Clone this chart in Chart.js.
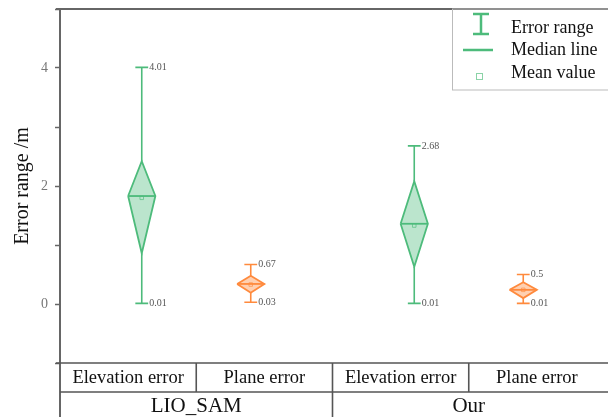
<!DOCTYPE html>
<html>
<head>
<meta charset="utf-8">
<script src="https://cdn.jsdelivr.net/npm/chart.js@4"></script>
<style>
  html, body { margin: 0; padding: 0; background: #fff; overflow: hidden; }
  #wrap { width: 608px; height: 417px; overflow: hidden; }
</style>
</head>
<body>
<div id="wrap"><canvas id="chart" width="610" height="417"></canvas></div>
<script>
// data
const categories = ['LIO_SAM', 'Our'];
const metrics = ['Elevation error', 'Plane error'];
// order: LIO_SAM elevation, LIO_SAM plane, Our elevation, Our plane
const whiskerLow = [0.01, 0.03, 0.01, 0.01];
const whiskerHigh = [4.01, 0.67, 2.68, 0.5];
const diamondLow = [0.86, 0.19, 0.63, 0.10];
const diamondHigh = [2.42, 0.48, 2.08, 0.37];
const medians = [1.83, 0.34, 1.36, 0.24];
const means = [1.80, 0.33, 1.33, 0.24];
const labelLow = ['0.01', '0.03', '0.01', '0.01'];
const labelHigh = ['4.01', '0.67', '2.68', '0.5'];
const yTicks = [0, 2, 4];

const colors = ['#4dbb7b', '#ff8a3d'];
const fills = ['rgba(77,187,123,0.38)', 'rgba(255,138,61,0.40)'];
const meanColors = ['rgba(110,200,145,0.8)', 'rgba(255,170,110,0.9)'];
const serif = '"Liberation Serif", "DejaVu Serif", serif';

const halfW = 0.1;    // diamond half width in x units
const capW = 0.047;   // whisker cap half width

function boxX(i) {
  const group = Math.floor(i / 2);
  return group * 2 + (i % 2 === 0 ? 0.6 : 1.4);
}

const datasets = [];
whiskerLow.forEach((lo, i) => {
  const x = boxX(i);
  const c = colors[i % 2];
  // whisker
  datasets.push({
    data: [{x: x, y: lo}, {x: x, y: diamondLow[i]}, {x: x, y: null},
           {x: x, y: diamondHigh[i]}, {x: x, y: whiskerHigh[i]}],
    borderColor: c, borderWidth: 1.6, pointRadius: 0, fill: false
  });
  // caps
  datasets.push({
    data: [{x: x - capW, y: lo}, {x: x + capW, y: lo}, {x: x, y: null},
           {x: x - capW, y: whiskerHigh[i]}, {x: x + capW, y: whiskerHigh[i]}],
    borderColor: c, borderWidth: 1.6, pointRadius: 0, fill: false
  });
  // diamond
  datasets.push({
    data: [{x: x - halfW, y: medians[i]}, {x: x, y: diamondHigh[i]},
           {x: x + halfW, y: medians[i]}, {x: x, y: diamondLow[i]},
           {x: x - halfW, y: medians[i]}],
    borderColor: c, borderWidth: 1.8, backgroundColor: fills[i % 2],
    pointRadius: 0, fill: 'shape', borderJoinStyle: 'miter'
  });
  // median line
  datasets.push({
    data: [{x: x - halfW, y: medians[i]}, {x: x + halfW, y: medians[i]}],
    borderColor: c, borderWidth: 1.8, pointRadius: 0, fill: false
  });
  // mean marker
  datasets.push({
    data: [{x: x, y: means[i]}],
    showLine: false, pointStyle: 'rect', pointRadius: 2.5,
    borderColor: meanColors[i % 2], borderWidth: 1, backgroundColor: 'rgba(0,0,0,0)'
  });
});

const decorPlugin = {
  id: 'decor',
  afterDraw(chart) {
    const ctx = chart.ctx;
    const xs = chart.scales.x;
    const ys = chart.scales.y;
    const area = chart.chartArea;
    const right = 610;
    ctx.save();

    // value labels next to the caps
    ctx.font = '10px ' + serif;
    ctx.fillStyle = '#555';
    ctx.textAlign = 'left';
    ctx.textBaseline = 'middle';
    whiskerLow.forEach((lo, i) => {
      const px = xs.getPixelForValue(boxX(i) + capW) + 1;
      ctx.fillText(labelHigh[i], px, ys.getPixelForValue(whiskerHigh[i]));
      ctx.fillText(labelLow[i], px, ys.getPixelForValue(lo));
    });

    // frame lines
    ctx.strokeStyle = '#666';
    ctx.lineWidth = 2;
    ctx.beginPath();
    ctx.moveTo(56, area.top); ctx.lineTo(right, area.top);
    ctx.moveTo(area.left, area.top); ctx.lineTo(area.left, 417);
    ctx.stroke();

    // category table under the plot
    const row1 = area.bottom;
    const row2 = row1 + 29;
    ctx.lineWidth = 1.6;
    ctx.strokeStyle = '#555';
    ctx.beginPath();
    ctx.moveTo(56, row1); ctx.lineTo(right, row1);
    ctx.moveTo(area.left, row2); ctx.lineTo(right, row2);
    [1, 3].forEach(v => {
      const px = xs.getPixelForValue(v);
      ctx.moveTo(px, row1); ctx.lineTo(px, row2);
    });
    const mid = xs.getPixelForValue(2);
    ctx.moveTo(mid, row1); ctx.lineTo(mid, 417);
    ctx.stroke();

    ctx.fillStyle = '#111';
    ctx.textAlign = 'center';
    ctx.textBaseline = 'middle';
    ctx.font = '18.5px ' + serif;
    for (let k = 0; k < 4; k++) {
      const cx = xs.getPixelForValue(k + 0.5);
      ctx.fillText(metrics[k % 2], cx, row1 + 15);
    }
    ctx.font = '21px ' + serif;
    categories.forEach((name, g) => {
      const cx = xs.getPixelForValue(g * 2 + 1);
      ctx.fillText(name, cx, row2 + 14);
    });

    // legend
    ctx.lineWidth = 1;
    ctx.strokeStyle = '#bbb';
    ctx.strokeRect(452.5, area.top, 200, 81);
    ctx.strokeStyle = colors[0];
    ctx.lineWidth = 2.5;
    ctx.beginPath();
    ctx.moveTo(481, 14); ctx.lineTo(481, 34);
    ctx.moveTo(473, 14); ctx.lineTo(489, 14);
    ctx.moveTo(473, 34); ctx.lineTo(489, 34);
    ctx.moveTo(463, 50); ctx.lineTo(493, 50);
    ctx.stroke();
    ctx.lineWidth = 1;
    ctx.strokeStyle = meanColors[0];
    ctx.strokeRect(476.5, 73.5, 6, 6);
    ctx.fillStyle = '#111';
    ctx.textAlign = 'left';
    ctx.font = '18px ' + serif;
    ctx.fillText('Error range', 511, 28);
    ctx.fillText('Median line', 511, 50);
    ctx.fillText('Mean value', 511, 73);
    ctx.restore();
  }
};

new Chart(document.getElementById('chart'), {
  type: 'line',
  data: { datasets: datasets },
  options: {
    responsive: false,
    animation: false,
    parsing: true,
    spanGaps: false,
    elements: { line: { tension: 0 } },
    layout: { padding: { top: 9, bottom: 54, right: 0, left: 0 } },
    plugins: { legend: { display: false }, tooltip: { enabled: false } },
    scales: {
      x: {
        type: 'linear', min: 0, max: 4, display: false
      },
      y: {
        type: 'linear', min: -1, max: 5,
        afterFit(scale) {
          scale.width = 60;
          scale.paddingTop = 0;
          scale.paddingBottom = 0;
        },
        border: { display: true, color: '#666', width: 2 },
        grid: { drawOnChartArea: false, drawTicks: true, tickLength: 5, color: '#666', tickWidth: 1.5 },
        ticks: {
          stepSize: 1,
          padding: 7,
          color: '#777',
          font: { family: serif, size: 14 },
          callback: v => (yTicks.includes(v) ? String(v) : '')
        },
        title: {
          display: true,
          text: 'Error range /m',
          color: '#111',
          font: { family: serif, size: 20 },
          padding: { top: 11, bottom: 0 }
        }
      }
    }
  },
  plugins: [decorPlugin]
});
</script>
</body>
</html>
